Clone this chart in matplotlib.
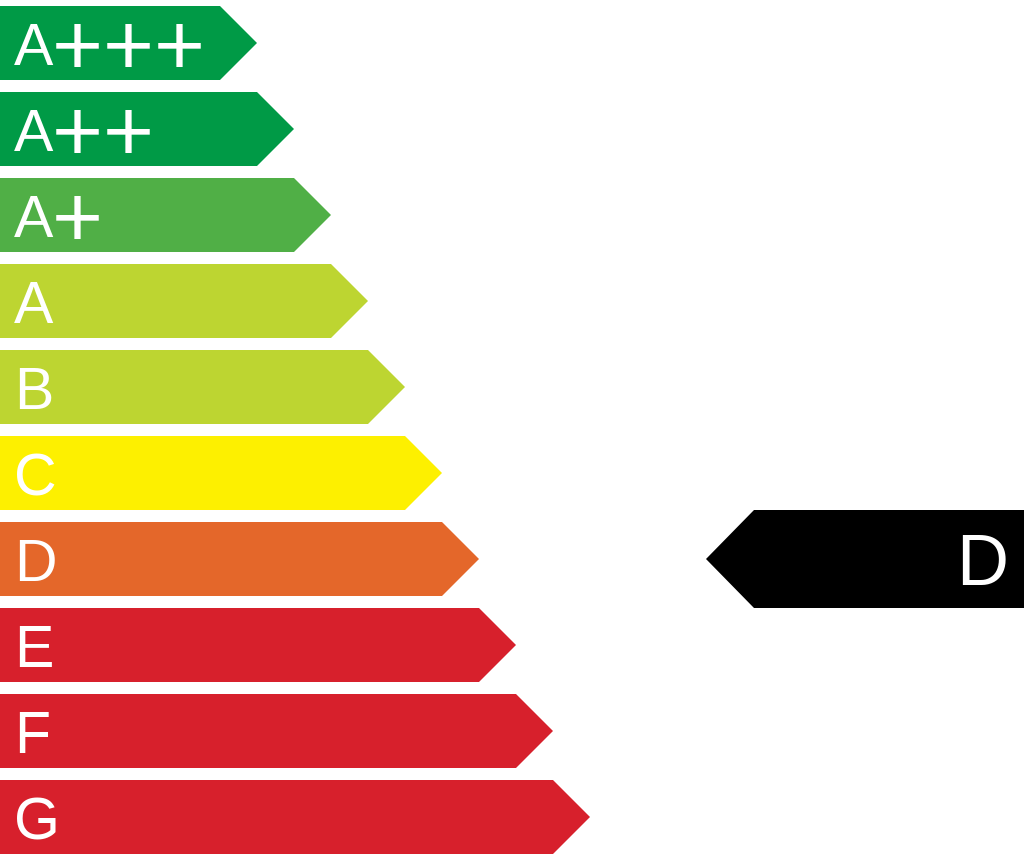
import matplotlib.pyplot as plt
from matplotlib.patches import Polygon

# energy classes, best to worst
classes = ['A+++', 'A++', 'A+', 'A', 'B', 'C', 'D', 'E', 'F', 'G']
colors = ['#009a46', '#009a46', '#50af46', '#bdd531', '#bdd531',
          '#fdf000', '#e4672a', '#d7202c', '#d7202c', '#d7202c']
rating = 'D'

W, H = 1024, 861
fig = plt.figure(figsize=(W / 100, H / 100), dpi=100)
ax = fig.add_axes([0, 0, 1, 1])
ax.set_xlim(0, W)
ax.set_ylim(H, 0)
ax.axis('off')

top0, step, bh = 6, 86, 74
tip0, dtip, head = 257, 37, 37
font = dict(family='Liberation Sans', color='white')

for i, (cls, col) in enumerate(zip(classes, colors)):
    top = top0 + i * step
    bot = top + bh
    mid = (top + bot) / 2
    tip = tip0 + i * dtip
    ax.add_patch(Polygon([(0, top), (tip - head, top), (tip, mid),
                          (tip - head, bot), (0, bot)],
                         closed=True, facecolor=col, edgecolor='none'))
    letter, plus = cls[0], cls[1:]
    ax.text(14, mid + 22, letter, fontsize=42.5, ha='left', va='baseline', **font)
    # the plus signs are drawn bigger than the letter, like on the label
    for j, p in enumerate(plus):
        ax.text(77.5 + 51 * j, mid + 32, p, fontsize=63, ha='center',
                va='baseline', **font)

# pointer for the rated class
k = classes.index(rating)
mid = top0 + k * step + bh / 2
ptop, pbot = mid - 49, mid + 49
ax.add_patch(Polygon([(W, ptop), (754, ptop), (706, mid), (754, pbot), (W, pbot)],
                     closed=True, facecolor='black', edgecolor='none'))
ax.text(1008, mid + 26, rating, fontsize=52, ha='right', va='baseline', **font)

fig.savefig('out.png', dpi=100)
